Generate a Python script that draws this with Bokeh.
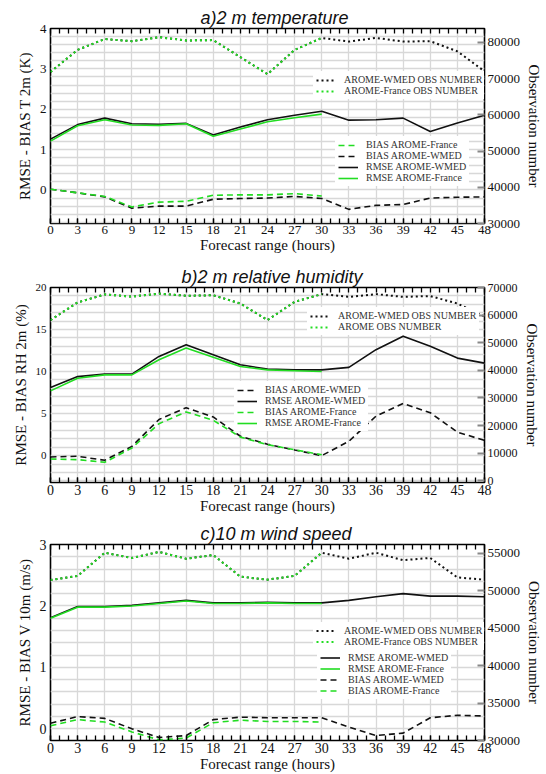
from bokeh.plotting import figure
from bokeh.models import Range1d, LinearAxis, FixedTicker, Legend, LegendItem, NumeralTickFormatter
from bokeh.layouts import column
from bokeh.embed import file_html
from bokeh.resources import INLINE

# ---------------- data ----------------
HOURS = [0, 3, 6, 9, 12, 15, 18, 21, 24, 27, 30, 33, 36, 39, 42, 45, 48]
HOURS_FR = [0, 3, 6, 9, 12, 15, 18, 21, 24, 27, 30]
MINOR_HOURS = list(range(0, 49))

# a) 2 m temperature
a_rmse_wmed = [1.26, 1.62, 1.78, 1.64, 1.63, 1.65, 1.36, 1.56, 1.74, 1.85, 1.95, 1.73, 1.74, 1.78, 1.45, 1.66, 1.85]
a_rmse_fr = [1.21, 1.59, 1.74, 1.61, 1.60, 1.64, 1.33, 1.51, 1.69, 1.79, 1.88]
a_bias_wmed = [0.02, -0.07, -0.17, -0.45, -0.40, -0.40, -0.23, -0.21, -0.20, -0.16, -0.21, -0.48, -0.38, -0.36, -0.20, -0.18, -0.17]
a_bias_fr = [0.02, -0.07, -0.16, -0.42, -0.30, -0.28, -0.13, -0.12, -0.12, -0.09, -0.15]
a_obs_wmed = [71800, 77900, 80900, 80300, 81400, 80500, 80600, 75900, 71200, 77900, 81200, 80200, 81200, 80200, 80300, 77500, 72000]
a_obs_fr = [71800, 77900, 80900, 80300, 81400, 80500, 80600, 75900, 71200, 77900, 81200]
a_left_ticks = [0, 1, 2, 3, 4]
a_right_ticks = [30000, 40000, 50000, 60000, 70000, 80000]

# b) 2 m relative humidity
b_rmse_wmed = [8.1, 9.4, 9.7, 9.7, 11.8, 13.2, 12.0, 10.8, 10.3, 10.2, 10.2, 10.5, 12.6, 14.2, 13.0, 11.6, 11.0]
b_rmse_fr = [7.7, 9.2, 9.6, 9.6, 11.4, 12.8, 11.7, 10.6, 10.2, 10.1, 10.0]
b_bias_wmed = [-0.16, -0.08, -0.56, 1.1, 4.3, 5.7, 4.6, 2.3, 1.35, 0.67, 0.0, 1.7, 4.7, 6.2, 5.1, 2.8, 1.8]
b_bias_fr = [-0.4, -0.48, -0.8, 0.9, 3.8, 5.2, 4.2, 2.2, 1.3, 0.7, 0.1]
b_obs_wmed = [58200, 64600, 67500, 66700, 67800, 67000, 67200, 64200, 58200, 64800, 67600, 66600, 67600, 66600, 66900, 64200, 59500]
b_obs_fr = [58200, 64600, 67500, 66700, 67800, 67000, 67200, 64200, 58200, 64800, 67600]
b_left_ticks = [0, 5, 10, 15, 20]
b_right_ticks = [0, 10000, 20000, 30000, 40000, 50000, 60000, 70000]

# c) 10 m wind speed
c_rmse_wmed = [1.81, 1.99, 1.99, 2.01, 2.05, 2.09, 2.05, 2.05, 2.06, 2.05, 2.05, 2.09, 2.15, 2.20, 2.16, 2.16, 2.15]
c_rmse_fr = [1.80, 1.98, 1.98, 2.00, 2.04, 2.08, 2.04, 2.04, 2.05, 2.04, 2.04]
c_bias_wmed = [0.09, 0.20, 0.17, 0.0, -0.14, -0.11, 0.15, 0.19, 0.18, 0.18, 0.18, 0.03, -0.11, -0.07, 0.18, 0.22, 0.21]
c_bias_fr = [0.05, 0.15, 0.11, -0.05, -0.18, -0.15, 0.10, 0.14, 0.12, 0.12, 0.11]
c_obs_wmed = [51450, 52000, 55100, 54400, 55200, 54300, 54800, 51900, 51500, 52000, 55100, 54300, 55100, 54100, 54400, 51800, 51500]
c_obs_fr = [51450, 52000, 55100, 54400, 55200, 54300, 54800, 51900, 51500, 52000, 55100]
c_left_ticks = [0, 1, 2, 3]
c_right_ticks = [30000, 35000, 40000, 45000, 50000, 55000]

GREEN = "#22dd22"
BLACK = "#111111"
SERIF = "Liberation Serif"
DOT = "2 3"
DASH = "6 4"


def make_panel(title, title_offset, ylabel, yr, yr2, left_ticks, grid_step, right_ticks,
               rmse_w, rmse_f, bias_w, bias_f, obs_w, obs_f,
               obs_labels, line_order, loc_obs, loc_lines,
               height, border_left, border_bottom,
               left_fs, bottom_fs, right_fs, row_h):
    p = figure(width=546, height=height, output_backend="svg", toolbar_location=None,
               x_range=Range1d(0, 48), y_range=Range1d(*yr),
               min_border_left=border_left, min_border_right=62,
               min_border_top=28, min_border_bottom=border_bottom)
    p.extra_y_ranges = {"obs": Range1d(*yr2)}

    p.title.text = title
    p.title.text_font = "Liberation Sans"
    p.title.text_font_style = "italic"
    p.title.text_font_size = "18px"
    p.title.text_color = BLACK
    p.title.align = "left"
    p.title.offset = title_offset
    p.title.standoff = 2

    p.outline_line_color = "black"
    p.outline_line_width = 1.6
    p.background_fill_color = "white"

    # grids
    p.xgrid.ticker = FixedTicker(ticks=HOURS)
    n = int(round((yr[1] - yr[0]) / grid_step)) + 2
    start = int(yr[0] / grid_step) * grid_step
    p.ygrid.ticker = FixedTicker(ticks=[round(start + i * grid_step, 4) for i in range(n)])
    for g in (p.xgrid[0], p.ygrid[0]):
        g.grid_line_color = "#d8d8d8"
        g.grid_line_width = 1.3

    # bottom axis
    xa = p.xaxis[0]
    xa.ticker = FixedTicker(ticks=HOURS, minor_ticks=MINOR_HOURS)
    xa.axis_label = "Forecast range (hours)"
    xa.axis_line_color = None
    xa.major_tick_in = 5
    xa.major_tick_out = 0
    xa.minor_tick_in = 5
    xa.minor_tick_out = 0
    xa.major_tick_line_color = "black"
    xa.minor_tick_line_color = "black"
    xa.major_tick_line_width = 1.3
    xa.minor_tick_line_width = 1.3
    xa.major_label_standoff = 2
    xa.axis_label_standoff = 0
    xa.major_label_text_font = SERIF
    xa.major_label_text_font_size = bottom_fs
    xa.major_label_text_color = BLACK
    xa.axis_label_text_font = SERIF
    xa.axis_label_text_font_size = "15px"
    xa.axis_label_text_font_style = "normal"
    xa.axis_label_text_color = BLACK

    # top axis (ticks only, no labels)
    ta = LinearAxis(ticker=FixedTicker(ticks=[], minor_ticks=MINOR_HOURS),
                    axis_line_color=None, major_tick_in=0, major_tick_out=0,
                    minor_tick_in=5, minor_tick_out=0,
                    minor_tick_line_width=1.3, minor_tick_line_color="black",
                    major_label_standoff=0)
    p.add_layout(ta, "above")

    # left axis
    ya = p.yaxis[0]
    ya.ticker = FixedTicker(ticks=left_ticks)
    ya.axis_label = ylabel
    ya.axis_line_color = None
    ya.major_tick_in = 0
    ya.major_tick_out = 0
    ya.minor_tick_in = 0
    ya.minor_tick_out = 0
    ya.major_label_standoff = 4
    ya.axis_label_standoff = 4
    ya.major_label_text_font = SERIF
    ya.major_label_text_font_size = left_fs
    ya.major_label_text_color = BLACK
    ya.axis_label_text_font = SERIF
    ya.axis_label_text_font_size = "15px"
    ya.axis_label_text_font_style = "normal"
    ya.axis_label_text_color = BLACK

    # right axis
    ra = LinearAxis(y_range_name="obs", ticker=FixedTicker(ticks=right_ticks),
                    formatter=NumeralTickFormatter(format="0"),
                    axis_label="Observation number", axis_line_color=None,
                    major_tick_in=7, major_tick_out=0, minor_tick_in=0, minor_tick_out=0,
                    major_tick_line_color="#888888", major_tick_line_width=2,
                    major_label_standoff=3, axis_label_standoff=3,
                    major_label_text_font=SERIF, major_label_text_font_size=right_fs,
                    major_label_text_color=BLACK,
                    axis_label_text_font=SERIF, axis_label_text_font_size="15px",
                    axis_label_text_font_style="normal", axis_label_text_color=BLACK)
    p.add_layout(ra, "right")

    # observation numbers
    r_ow = p.line(HOURS, obs_w, y_range_name="obs", line_color=BLACK, line_width=2, line_dash=DOT)
    r_of = p.line(HOURS_FR, obs_f, y_range_name="obs", line_color=GREEN, line_width=2, line_dash=DOT)
    # rmse / bias
    r_rw = p.line(HOURS, rmse_w, line_color=BLACK, line_width=1.6)
    r_bw = p.line(HOURS, bias_w, line_color=BLACK, line_width=1.6, line_dash=DASH)
    r_rf = p.line(HOURS_FR, rmse_f, line_color=GREEN, line_width=1.6)
    r_bf = p.line(HOURS_FR, bias_f, line_color=GREEN, line_width=1.6, line_dash=DASH)

    rend = {"RMSE AROME-WMED": r_rw, "RMSE AROME-France": r_rf,
            "BIAS AROME-WMED": r_bw, "BIAS AROME-France": r_bf}

    def style(leg):
        leg.background_fill_color = "white"
        leg.background_fill_alpha = 1.0
        leg.border_line_alpha = 0
        leg.label_text_font = SERIF
        leg.label_text_font_size = "10px"
        leg.label_text_color = "#333333"
        leg.glyph_width = 20
        leg.glyph_height = row_h
        leg.label_height = row_h
        leg.label_standoff = 8
        leg.spacing = 0
        leg.padding = 3
        leg.margin = 0

    leg1 = Legend(items=[LegendItem(label=obs_labels[0], renderers=[r_ow]),
                         LegendItem(label=obs_labels[1], renderers=[r_of])],
                  location=loc_obs)
    style(leg1)
    p.add_layout(leg1)
    leg2 = Legend(items=[LegendItem(label=k, renderers=[rend[k]]) for k in line_order],
                  location=loc_lines)
    style(leg2)
    p.add_layout(leg2)
    return p


pa = make_panel("a)2 m temperature", 150, "RMSE - BIAS T 2m (K)", (-0.83, 4.0), (30000, 83800),
                a_left_ticks, 0.2, a_right_ticks,
                a_rmse_wmed, a_rmse_fr, a_bias_wmed, a_bias_fr, a_obs_wmed, a_obs_fr,
                ["AROME-WMED OBS NUMBER", "AROME-France OBS NUMBER"],
                ["BIAS AROME-France", "BIAS AROME-WMED", "RMSE AROME-WMED", "RMSE AROME-France"],
                (263, 124), (285, 37), 259, 47, 36, "13px", "13px", "13px", 10)

pb = make_panel("b)2 m relative humidity", 131, "RMSE - BIAS RH 2m (%)", (-3.2, 20.0), (-600, 70000),
                b_left_ticks, 1.0, b_right_ticks,
                b_rmse_wmed, b_rmse_fr, b_bias_wmed, b_bias_fr, b_obs_wmed, b_obs_fr,
                ["AROME-WMED OBS NUMBER", "AROME OBS NUMBER"],
                ["BIAS AROME-WMED", "RMSE AROME-WMED", "BIAS AROME-France", "RMSE AROME-France"],
                (257, 147), (184, 51), 257, 50, 34, "11px", "14px", "12px", 10)

pc = make_panel("c)10 m wind speed", 150, "RMSE - BIAS V 10m (m/s)", (-0.19, 3.0), (30000, 56200),
                c_left_ticks, 0.2, c_right_ticks,
                c_rmse_wmed, c_rmse_fr, c_bias_wmed, c_bias_fr, c_obs_wmed, c_obs_fr,
                ["AROME-WMED OBS NUMBER", "AROME-France OBS NUMBER"],
                ["RMSE AROME-WMED", "RMSE AROME-France", "BIAS AROME-WMED", "BIAS AROME-France"],
                (263, 90), (267, 41), 258, 46, 34, "14px", "14px", "13px", 11)

layout = column(pa, pb, pc, spacing=0)
open("out.html", "w").write(file_html(layout, INLINE))
